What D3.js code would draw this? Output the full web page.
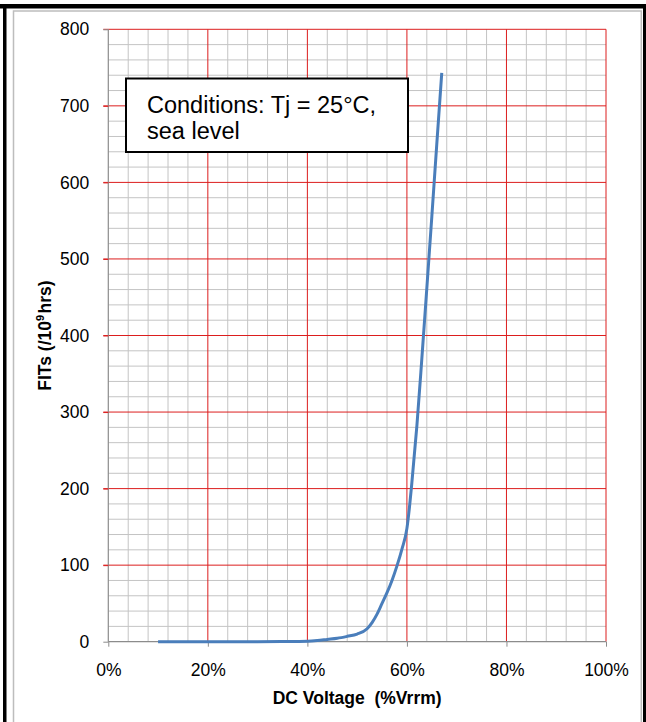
<!DOCTYPE html>
<html>
<head>
<meta charset="utf-8">
<script src="https://cdn.jsdelivr.net/npm/d3@7/dist/d3.min.js"></script>
<style>
  html, body { margin: 0; padding: 0; background: #fff; }
  svg { display: block; }
  text { font-family: "Liberation Sans", Arial, sans-serif; }
</style>
</head>
<body>
<svg id="chart" width="646" height="722"></svg>
<script>
// ---- data ----
const voltagePct = [10, 20, 30, 35, 40, 42, 44, 46, 48, 50, 52, 53, 54, 55, 56, 57, 58, 59, 60, 60.5, 61, 62, 63, 64, 65, 66, 67];
const fits = [0, 0, 0, 0.2, 0.6, 1.5, 3, 4.5, 7, 10, 17, 25, 36, 50, 64, 80, 99, 121, 148, 175, 208, 282, 370, 462, 555, 650, 743];
const xTicks = [0, 20, 40, 60, 80, 100];
const yTicks = [0, 100, 200, 300, 400, 500, 600, 700, 800];
const xTitle = "DC Voltage  (%Vrrm)";
const yTitleMain = "FITs (/10";
const yTitleSup = "9";
const yTitleEnd = "hrs)";
const noteLines = ["Conditions: Tj = 25°C,", "sea level"];

const svg = d3.select("#chart");
const W = 646, H = 722;
const plot = { left: 108.3, right: 606, top: 29.3, bottom: 641.7 };

const x = d3.scaleLinear().domain([0, 100]).range([plot.left, plot.right]);
const y = d3.scaleLinear().domain([0, 800]).range([plot.bottom, plot.top]);

// ---- outer frame ----
svg.append("rect").attr("x", 13.5).attr("y", 11).attr("width", 627.8).attr("height", H)
  .attr("fill", "#fff").attr("stroke", "#bdbdbd").attr("stroke-width", 1.5);
svg.append("rect").attr("x", 0).attr("y", 4).attr("width", W).attr("height", 4.5).attr("fill", "#000");
svg.append("rect").attr("x", 3).attr("y", 4).attr("width", 3.5).attr("height", H).attr("fill", "#000");
svg.append("rect").attr("x", 643).attr("y", 4).attr("width", 3).attr("height", H).attr("fill", "#000");

// ---- grid ----
const g = svg.append("g");
const minorX = d3.range(0, 101, 4).filter(v => v % 20 !== 0);
const minorY = d3.range(0, 801, 20).filter(v => v % 100 !== 0);
g.selectAll(".mx").data(minorX).join("line")
  .attr("x1", d => x(d)).attr("x2", d => x(d)).attr("y1", plot.top).attr("y2", plot.bottom)
  .attr("stroke", "#c4c4c4").attr("stroke-width", 1);
g.selectAll(".my").data(minorY).join("line")
  .attr("x1", plot.left).attr("x2", plot.right).attr("y1", d => y(d)).attr("y2", d => y(d))
  .attr("stroke", "#c4c4c4").attr("stroke-width", 1);
g.selectAll(".Mx").data(xTicks.filter(d => d > 0)).join("line")
  .attr("x1", d => x(d)).attr("x2", d => x(d)).attr("y1", plot.top).attr("y2", plot.bottom)
  .attr("stroke", "#dc1e1e").attr("stroke-width", 1);
g.selectAll(".My").data(yTicks.filter(d => d > 0)).join("line")
  .attr("x1", plot.left - 5).attr("x2", plot.right).attr("y1", d => y(d)).attr("y2", d => y(d))
  .attr("stroke", "#dc1e1e").attr("stroke-width", 1);

// ---- axes ----
const yAxis = svg.append("g").attr("transform", `translate(${plot.left},0)`)
  .call(d3.axisLeft(y).tickValues(yTicks).tickSize(5).tickPadding(14).tickFormat(d3.format("d")));
const xAxis = svg.append("g").attr("transform", `translate(0,${plot.bottom})`)
  .call(d3.axisBottom(x).tickValues(xTicks).tickSize(5).tickPadding(17).tickFormat(d => d + "%"));
[yAxis, xAxis].forEach(a => {
  a.select(".domain").attr("stroke", "#8c8c8c").attr("stroke-width", 1.2);
  a.selectAll(".tick line").attr("stroke", "#8c8c8c");
  a.selectAll(".tick text").attr("fill", "#000").style("font-size", "17.5px")
    .style("font-family", "'Liberation Sans', Arial, sans-serif");
});
yAxis.selectAll(".tick").filter(d => d > 0 && d < 800).select("line").attr("stroke", "#dc1e1e");
xAxis.select(".domain").attr("d", `M${plot.left},0H${plot.right}`);
yAxis.select(".domain").attr("d", `M0,${plot.bottom}V${plot.top}`);

// ---- titles ----
svg.append("text").attr("x", (plot.left + plot.right) / 2).attr("y", 704)
  .attr("text-anchor", "middle").style("font-weight", "bold").style("font-size", "17.5px")
  .style("white-space", "pre").attr("xml:space", "preserve")
  .text(xTitle);
const yt = svg.append("text").attr("transform", `translate(51,${(plot.top + plot.bottom) / 2}) rotate(-90)`)
  .attr("text-anchor", "middle").style("font-weight", "bold").style("font-size", "17.5px");
yt.append("tspan").text(yTitleMain);
yt.append("tspan").attr("dy", -7).style("font-size", "11px").text(yTitleSup);
yt.append("tspan").attr("dy", 7).attr("dx", 1.5).text(yTitleEnd);

// ---- data line ----
const pts = voltagePct.map((v, i) => [v, fits[i]]);
svg.append("path").datum(pts)
  .attr("fill", "none").attr("stroke", "#4a7ebb").attr("stroke-width", 3)
  .attr("stroke-linejoin", "round").attr("stroke-linecap", "butt")
  .attr("d", d3.line().x(d => x(d[0])).y(d => y(d[1])).curve(d3.curveMonotoneX));

// ---- annotation box ----
svg.append("rect").attr("x", 126).attr("y", 78.5).attr("width", 282).attr("height", 73.5)
  .attr("fill", "#fff").attr("stroke", "#000").attr("stroke-width", 2);
svg.selectAll(".note").data(noteLines).join("text")
  .attr("x", 147).attr("y", (d, i) => 113 + i * 26)
  .style("font-size", "23.5px").attr("fill", "#000").text(d => d);
</script>
</body>
</html>
